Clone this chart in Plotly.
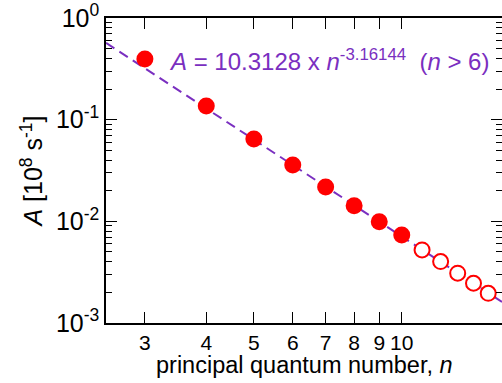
import numpy as np
import plotly.graph_objects as go

# Einstein A coefficients vs principal quantum number
n_calc = [3, 4, 5, 6, 7, 8, 9, 10]
A_calc = [0.395, 0.136, 0.0646, 0.0359, 0.0218, 0.01426, 0.00993, 0.00735]
n_extrap = [11, 12, 13, 14, 15]
A_extrap = [0.00523, 0.00402, 0.00309, 0.00246, 0.00196]

# power-law fit A = c * n^p
fit_c = 10.3128
fit_p = -3.16144
n_fit = [2.5, 16]
A_fit = [fit_c * v ** fit_p for v in n_fit]

x_ticks = [3, 4, 5, 6, 7, 8, 9, 10]
y_ticks = [1, 0.1, 0.01, 0.001]
y_ticktext = ["10<sup>0</sup>", "10<sup>-1</sup>", "10<sup>-2</sup>", "10<sup>-3</sup>"]

purple = "#7a2fc0"
red = "#ff0000"
font = "Liberation Sans"

fig = go.Figure()
fig.add_trace(go.Scatter(x=n_fit, y=A_fit, mode="lines",
                         line=dict(color=purple, width=2, dash="10px,6px"),
                         showlegend=False))
fig.add_trace(go.Scatter(x=n_calc, y=A_calc, mode="markers",
                         marker=dict(color=red, size=17, line=dict(width=0)),
                         showlegend=False))
fig.add_trace(go.Scatter(x=n_extrap, y=A_extrap, mode="markers",
                         marker=dict(color="white", size=15, line=dict(color=red, width=2)),
                         showlegend=False))

fig.add_annotation(x=np.log10(3.33), y=np.log10(0.39), xref="x", yref="y",
                   text="<i>A</i> = 10.3128 x <i>n</i><sup>-3.16144</sup>  (<i>n</i> > 6)",
                   showarrow=False, xanchor="left", yanchor="middle",
                   font=dict(family=font, size=24, color=purple))

# x-axis title placed below the tick labels
fig.add_annotation(x=0.5, y=-0.09, xref="paper", yref="paper",
                   text="principal quantum number, <i>n</i>",
                   showarrow=False, xanchor="center", yanchor="top",
                   font=dict(family=font, size=23.5, color="black"))

fig.update_xaxes(type="log", range=[np.log10(2.5), np.log10(16)],
                 tickvals=x_ticks, ticktext=[str(v) for v in x_ticks], tickangle=0,
                 ticks="inside", ticklen=11, tickwidth=1, tickcolor="black",
                 showline=True, linecolor="black", linewidth=1.5, mirror="allticks",
                 showgrid=False, zeroline=False, automargin=False,
                 tickfont=dict(family=font, size=21, color="black"))
fig.update_yaxes(type="log", range=[-3, 0],
                 tickvals=y_ticks, ticktext=y_ticktext,
                 ticks="inside", ticklen=11, tickwidth=1, tickcolor="black",
                 minor=dict(ticks="inside", ticklen=6, tickwidth=1, tickcolor="black",
                            showgrid=False, dtick="D1"),
                 showline=True, linecolor="black", linewidth=1.5, mirror="allticks",
                 showgrid=False, zeroline=False, automargin=False,
                 tickfont=dict(family=font, size=25, color="black"),
                 title=dict(text="<i>A</i> [10<sup>8</sup> s<sup>-1</sup>]", standoff=6,
                            font=dict(family=font, size=25, color="black")))

fig.update_layout(width=502, height=383,
                  margin=dict(l=106, r=0, t=18, b=60),
                  paper_bgcolor="white", plot_bgcolor="white")

fig.write_html("out.html")
